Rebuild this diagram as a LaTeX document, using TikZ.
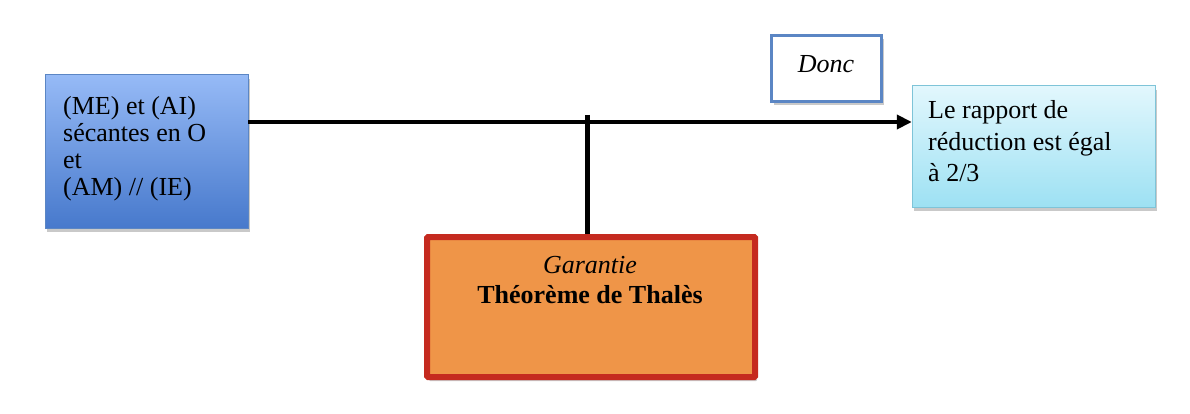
\documentclass[tikz,border=0pt]{standalone}
\usepackage{fontspec}
\setmainfont{Liberation Serif}
\usetikzlibrary{shadows,arrows.meta}
\definecolor{bluetop}{HTML}{96BAF6}
\definecolor{bluebot}{HTML}{4779CC}
\definecolor{blueline}{HTML}{5B86C4}
\definecolor{cyantop}{HTML}{E2F7FD}
\definecolor{cyanbot}{HTML}{9DE1F3}
\definecolor{cyanline}{HTML}{7EC4D8}
\definecolor{orangefill}{HTML}{EF9548}
\definecolor{redline}{HTML}{C52A1F}
\tikzset{
  x=1pt, y=-1pt,
  shad/.style={drop shadow={shadow xshift=2pt, shadow yshift=-4pt, opacity=0.3, fill=black!70}},
  txt/.style={anchor=base west, inner sep=0pt, font=\fontsize{26}{30}\selectfont},
  ctxt/.style={anchor=base, inner sep=0pt, font=\fontsize{26}{30}\selectfont},
  conn/.style={line width=4.5pt, black},
}
\begin{document}
\begin{tikzpicture}
\useasboundingbox (0,0) rectangle (1190,414);
% boxes
\path[shad, top color=bluetop, bottom color=bluebot, draw=blueline, line width=1pt]
  (45,75) rectangle (248,228);
\node[inner sep=0, minimum width=203pt, minimum height=153pt] (hyp) at (146.5,151.5) {};
\path[shad, top color=cyantop, bottom color=cyanbot, draw=cyanline, line width=1pt]
  (912,86) rectangle (1155,207);
\node[inner sep=0, minimum width=243pt, minimum height=121pt] (concl) at (1033.5,146.5) {};
\node[shad, draw=blueline, fill=white, line width=3pt, minimum width=110pt, minimum height=66pt, inner sep=0] (donc) at (826.5,68.5) {};
\node[shad, draw=redline, fill=orangefill, line width=6pt, minimum width=328pt, minimum height=140pt, inner sep=0, rounded corners=1pt] (gar) at (591,307) {};
% texts
\node[txt] (h1) at (63,115) {(ME) et (AI)};
\node[txt] (h2) at (63,142) {sécantes en O};
\node[txt] (h3) at (63,169) {et};
\node[txt] (h4) at (63,196) {(AM) // (IE)};
\node[txt] (c1) at (928,119) {Le rapport de};
\node[txt] (c2) at (928,150.5) {réduction est égal};
\node[txt] (c3) at (928,182) {à 2/3};
\node[ctxt] (dt) at (826,73) {\itshape Donc};
\node[ctxt] (g1) at (590,273) {\itshape Garantie};
\node[ctxt] (g2) at (590,303) {\bfseries Théorème de Thalès};
% connectors
\coordinate (j) at (587.5,122);
\draw[conn, -{Triangle[length=15pt,width=14pt]}] (hyp.east |- j) -- (concl.west |- j);
\draw[conn] ([yshift=7pt]j) -- (gar.north -| j);
\end{tikzpicture}
\end{document}
